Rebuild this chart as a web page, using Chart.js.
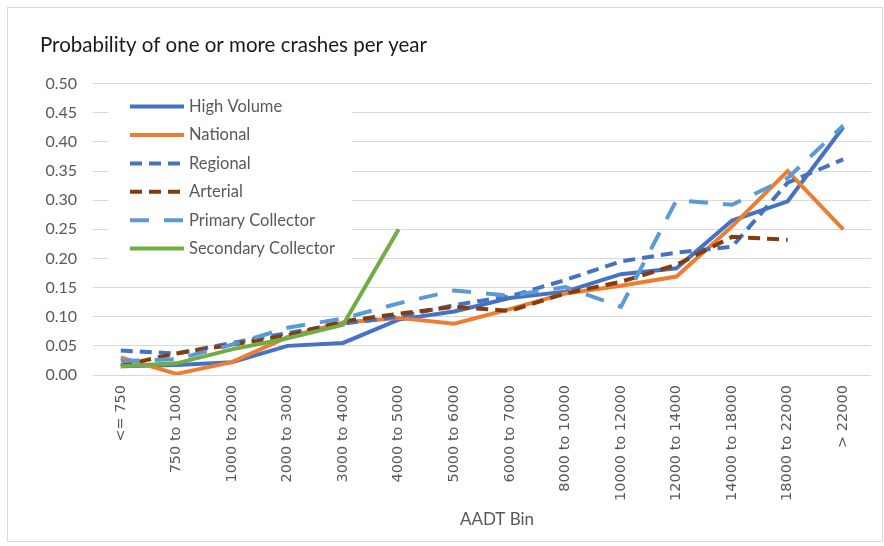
<!DOCTYPE html>
<html lang="en">
<head>
  <meta charset="UTF-8">
  <title>Probability of one or more crashes per year</title>
  <script src="https://cdn.jsdelivr.net/npm/chart.js@4.4.2/dist/chart.umd.min.js"></script>
  <style>
    body {
      margin: 0;
      background: #fff;
    }
    .frame {
      position: absolute;
      left: 7px;
      top: 7px;
      width: 874px;
      height: 533px;
      border: 1px solid #d9d9d9;
    }
    #crashChart {
      position: absolute;
      left: 0;
      top: 0;
    }
  </style>
</head>
<body>
  <div class="frame"></div>
  <canvas id="crashChart" width="884" height="546"></canvas>
  <script>
    // AADT bins and probability per road class
    const categories = ['<= 750', '750 to 1000', '1000 to 2000', '2000 to 3000', '3000 to 4000',
      '4000 to 5000', '5000 to 6000', '6000 to 7000', '8000 to 10000', '10000 to 12000',
      '12000 to 14000', '14000 to 18000', '18000 to 22000', '> 22000'];
    const highVolume = [0.015, 0.017, 0.022, 0.050, 0.055, 0.095, 0.109, 0.132, 0.143, 0.173, 0.183, 0.265, 0.298, 0.425];
    const national = [0.030, 0.002, 0.022, 0.065, 0.090, 0.098, 0.088, 0.113, 0.140, 0.153, 0.169, 0.255, 0.350, 0.250];
    const regional = [0.042, 0.037, 0.055, 0.072, 0.088, 0.100, 0.120, 0.135, 0.163, 0.195, 0.210, 0.220, 0.330, 0.370];
    const arterial = [0.016, 0.037, 0.052, 0.068, 0.092, 0.105, 0.117, 0.110, 0.140, 0.160, 0.189, 0.237, 0.232, null];
    const primaryCollector = [0.024, 0.027, 0.052, 0.081, 0.097, 0.123, 0.145, 0.136, 0.151, 0.117, 0.300, 0.292, 0.338, 0.428];
    const secondaryCollector = [0.015, 0.020, 0.044, 0.063, 0.086, 0.250, null, null, null, null, null, null, null, null];
    const yTicks = [0, 0.05, 0.10, 0.15, 0.20, 0.25, 0.30, 0.35, 0.40, 0.45, 0.50];

    const series = [
      { label: 'High Volume', data: highVolume, color: '#4472C4', dash: [] },
      { label: 'National', data: national, color: '#ED7D31', dash: [] },
      { label: 'Regional', data: regional, color: '#4472C4', dash: [12, 7] },
      { label: 'Arterial', data: arterial, color: '#843C0C', dash: [12, 7] },
      { label: 'Primary Collector', data: primaryCollector, color: '#5B9BD5', dash: [19, 15] },
      { label: 'Secondary Collector', data: secondaryCollector, color: '#70AD47', dash: [] }
    ];

    // legend sits inside the plot, top-left, over the gridlines
    const insideLegend = {
      id: 'insideLegend',
      beforeDatasetsDraw(chart) {
        const ctx = chart.ctx;
        const left = chart.chartArea.left;
        const top = chart.chartArea.top;
        ctx.save();
        ctx.fillStyle = '#fff';
        ctx.fillRect(left + 15, top + 12, 244, 174);
        chart.data.datasets.forEach(function(ds, i) {
          const y = top + 23 + i * 28.4;
          ctx.beginPath();
          ctx.setLineDash(ds.borderDash);
          ctx.strokeStyle = ds.borderColor;
          ctx.lineWidth = ds.borderWidth;
          ctx.moveTo(left + 37, y);
          ctx.lineTo(left + 91, y);
          ctx.stroke();
          ctx.setLineDash([]);
          ctx.fillStyle = '#595959';
          ctx.font = '16.5px Lato';
          ctx.textBaseline = 'middle';
          ctx.fillText(ds.label, left + 96, y);
        });
        ctx.restore();
      },
      // Excel puts the axis title a little right of the plot centre
      afterDraw(chart) {
        const ctx = chart.ctx;
        ctx.save();
        ctx.fillStyle = '#595959';
        ctx.font = '17px Lato';
        ctx.textAlign = 'center';
        ctx.textBaseline = 'middle';
        ctx.fillText('AADT Bin', 497, 520);
        ctx.restore();
      }
    };

    new Chart(document.getElementById('crashChart'), {
      type: 'line',
      data: {
        labels: categories,
        datasets: series.map(function(s, i) {
          return {
            label: s.label,
            data: s.data,
            borderColor: s.color,
            backgroundColor: s.color,
            borderDash: s.dash,
            borderWidth: 4,
            pointRadius: 0,
            tension: 0,
            fill: false,
            spanGaps: false,
            order: series.length - i
          };
        })
      },
      options: {
        responsive: false,
        animation: false,
        devicePixelRatio: 1,
        layout: { padding: { left: 40, right: 13, top: 22, bottom: 17 } },
        plugins: {
          legend: { display: false },
          tooltip: { enabled: false },
          title: {
            display: true,
            text: 'Probability of one or more crashes per year',
            align: 'start',
            color: '#1a1a1a',
            font: { family: 'Lato', size: 20.5, weight: 'normal' },
            padding: { top: 11, bottom: 26 }
          }
        },
        scales: {
          x: {
            offset: true,
            afterFit: function(scale) { scale.height = 154; },
            grid: { display: false, drawTicks: false },
            border: { display: false },
            ticks: {
              autoSkip: false,
              minRotation: 90,
              maxRotation: 90,
              padding: 10,
              color: '#595959',
              font: { family: 'DejaVu Sans', size: 14.5 }
            }
          },
          y: {
            min: 0,
            max: 0.5,
            afterFit: function(scale) { scale.width = 53; },
            afterBuildTicks: function(scale) {
              scale.ticks = yTicks.map(function(v) { return { value: v }; });
            },
            grid: { color: '#d9d9d9', lineWidth: 1, drawTicks: false },
            border: { display: false },
            ticks: {
              padding: 16,
              color: '#595959',
              font: { family: 'Lato', size: 16 },
              callback: function(v) { return Number(v).toFixed(2); }
            }
          }
        }
      },
      plugins: [insideLegend]
    });
  </script>
</body>
</html>
